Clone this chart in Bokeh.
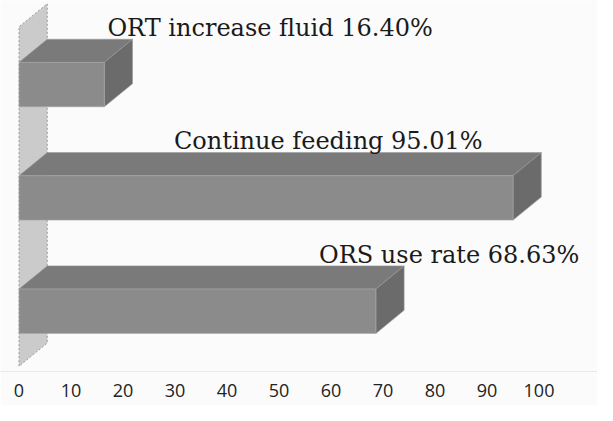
from bokeh.plotting import figure
from bokeh.models import Range1d, FixedTicker
from bokeh.embed import file_html
from bokeh.resources import INLINE
from bokeh.core.properties import value

# ---- data ----
categories = ["ORS use rate", "Continue feeding", "ORT increase fluid"]
values = [68.63, 95.01, 16.40]
value_labels = ["68.63%", "95.01%", "16.40%"]
tick_values = [0, 10, 20, 30, 40, 50, 60, 70, 80, 90, 100]

# ---- layout (not data) ----
positions = [1, 2, 3]          # bar slots, bottom to top
half = 0.196                   # half thickness of front face
dx = 5.43                      # 3D depth in x units
dy = 0.204                     # 3D depth in y units
label_x = [57.7, 29.8, 17.0]   # label start positions
label_gap = 0.1

front_col = "#8b8b8b"
top_col = "#7a7a7a"
side_col = "#6b6b6b"
bg = "#fbfbfb"

p = figure(width=597, height=405, output_backend="svg", toolbar_location=None,
           x_range=Range1d(-3.56, 111.25), y_range=Range1d(0.468, 3.742),
           y_axis_location=None,
           min_border_left=0, min_border_right=0, min_border_top=0, min_border_bottom=34)
p.outline_line_color = None
p.grid.visible = False
p.background_fill_color = bg
p.border_fill_color = bg

# left wall
wy0 = positions[0] - 0.485
wy1 = positions[-1] + 0.51
p.patch([0, 0, dx, dx], [wy0, wy1, wy1 + dy, wy0 + dy],
        fill_color="#cbcbcb", line_color="#9a9a9a", line_width=1, line_dash="2 2")

# bars
fx, fy, tx, ty, sx, sy = [], [], [], [], [], []
for y, v in zip(positions, values):
    fx.append([0, v, v, 0]); fy.append([y - half, y - half, y + half, y + half])
    tx.append([0, v, v + dx, dx]); ty.append([y + half, y + half, y + half + dy, y + half + dy])
    sx.append([v, v + dx, v + dx, v]); sy.append([y - half, y - half + dy, y + half + dy, y + half])

p.patches(tx, ty, fill_color=top_col, line_color="#9a9a9a", line_width=0.6)
p.patches(sx, sy, fill_color=side_col, line_color="#9a9a9a", line_width=0.6)
p.patches(fx, fy, fill_color=front_col, line_color="#a8a8a8", line_width=0.6)

# labels
texts = [f"{c} {l}" for c, l in zip(categories, value_labels)]
ly = [y + half + dy + label_gap for y in positions]
p.text(x=label_x, y=ly, text=texts, text_font=value("DejaVu Serif"),
       text_font_size="24px", text_color="#1a1a1a",
       text_align="left", text_baseline="alphabetic")

# x axis
ax = p.xaxis[0]
ax.ticker = FixedTicker(ticks=tick_values)
ax.major_label_text_font = "Open Sans"
ax.major_label_text_font_size = "18px"
ax.major_label_text_color = "#222222"
ax.major_tick_line_color = None
ax.minor_tick_line_color = None
ax.axis_line_color = "#e8e8e8"
ax.major_label_standoff = 6

open("out.html", "w").write(file_html(p, INLINE))
